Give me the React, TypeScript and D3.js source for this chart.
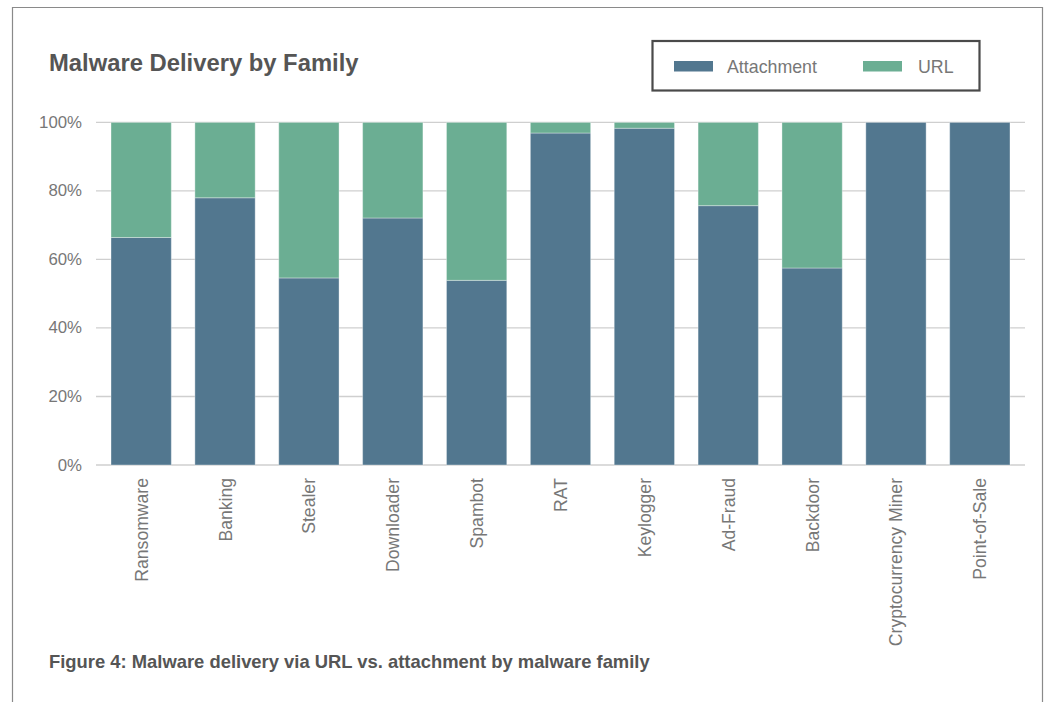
import React from "react";
import * as d3 from "d3";

const categories = ["Ransomware", "Banking", "Stealer", "Downloader", "Spambot", "RAT", "Keylogger", "Ad-Fraud", "Backdoor", "Cryptocurrency Miner", "Point-of-Sale"];
const attachment = [66.4, 78.0, 54.6, 72.1, 53.9, 96.9, 98.3, 75.7, 57.5, 100, 100];
const url = attachment.map((a) => 100 - a);
const yTicks = [0, 20, 40, 60, 80, 100];
const seriesNames = ["Attachment", "URL"];
const colors = ["#52778f", "#6bae93"];

const W = 1045;
const H = 702;
const FONT = "'Liberation Sans', Arial, Helvetica, sans-serif";

export default function App() {
  const x = d3.scaleBand<string>().domain(categories).range([96, 1025]).paddingInner(0.281).paddingOuter(0.179);
  const y = d3.scaleLinear().domain([0, 100]).range([465, 122.4]);
  const data = categories.map((c, i) => ({ c, Attachment: attachment[i], URL: url[i] }));
  const stack = d3.stack<any>().keys(seriesNames)(data);

  return (
    <svg width={W} height={H} style={{ position: "absolute", left: 0, top: 0, background: "#fff" }}>
      <path d="M12.5,702 V7.5 H1042.5 V702" fill="none" stroke="#8a8a8a" strokeWidth={1.2} />
      <text x={49} y={71} fontFamily={FONT} fontWeight="bold" fontSize={23.8} fill="#555">Malware Delivery by Family</text>
      <rect x={652.5} y={41} width={327} height={49.5} fill="none" stroke="#4a4a4a" strokeWidth={2.2} />
      {seriesNames.map((s, i) => (
        <g key={s}>
          <rect x={[674, 863][i]} y={61} width={39} height={10.5} fill={colors[i]} />
          <text x={[727, 918][i]} y={73} fontFamily={FONT} fontSize={17.8} fill="#777">{s}</text>
        </g>
      ))}
      {yTicks.map((t) => (
        <g key={t}>
          <line x1={96} x2={1025} y1={y(t)} y2={y(t)} stroke="#cfcfcf" strokeWidth={1.3} />
          <text x={82} y={y(t) + 5.5} textAnchor="end" fontFamily={FONT} fontSize={16.8} fill="#777">{t}%</text>
        </g>
      ))}
      {stack.map((layer, li) => (
        <g key={layer.key} fill={colors[li]}>
          {layer.map((d, i) => (
            <rect key={i} x={x(categories[i])} y={y(d[1])} width={x.bandwidth()} height={Math.max(0, y(d[0]) - y(d[1]))} stroke="rgba(255,255,255,0.35)" strokeWidth={1} />
          ))}
        </g>
      ))}
      {categories.map((c) => (
        <text key={c} transform={`translate(${(x(c) as number) + x.bandwidth() / 2 + 6.5},478) rotate(-90)`} textAnchor="end" fontFamily={FONT} fontSize={17.6} fill="#777">{c}</text>
      ))}
      <text x={49} y={668} fontFamily={FONT} fontWeight="bold" fontSize={18.4} fill="#555">Figure 4: Malware delivery via URL vs. attachment by malware family</text>
    </svg>
  );
}
